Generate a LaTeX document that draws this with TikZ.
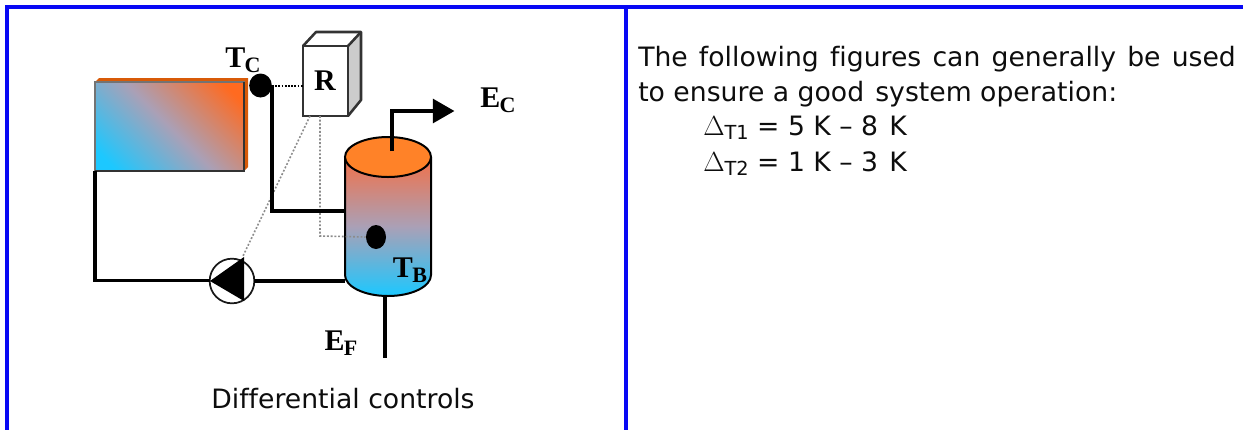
\documentclass[tikz,border=0pt]{standalone}
\usepackage{fontspec}
\setmainfont{DejaVu Sans}[Ligatures=NoCommon]
\newfontfamily\lblfont{Liberation Serif}
\usetikzlibrary{shapes.geometric}
\definecolor{hotc}{HTML}{FF6A20}
\definecolor{coldc}{HTML}{1CC8FF}
\definecolor{midc}{HTML}{AAA0B6}
\definecolor{capc}{HTML}{FF8228}
\definecolor{stripc}{HTML}{D85A08}
\definecolor{framec}{HTML}{0808F4}
\definecolor{tanktop}{HTML}{F27048}
\pgfdeclareverticalshading{panelramp}{100bp}{color(0bp)=(hotc); color(21bp)=(hotc); color(50bp)=(midc); color(79bp)=(coldc); color(100bp)=(coldc)}
\tikzset{
  frameline/.style={draw=framec,line width=2.5pt},
  pipe/.style={draw=black,line width=2.4pt,line cap=butt,line join=miter},
  ctrlthin/.style={draw=black!45,line width=1.2pt,dash pattern=on 1.4pt off 1.4pt},
  ctrlblack/.style={draw=black,line width=2pt,dash pattern=on 1.4pt off 1pt},
  boxedge/.style={draw=black!80,line width=1.9pt,line join=round},
  sensor/.style={fill=black,draw=none,ellipse,inner sep=0pt},
  lbl/.style={font=\lblfont\bfseries\fontsize{22.5}{22}\selectfont,inner sep=0pt,text=black},
  body/.style={inner sep=0pt,anchor=base west,text=black!95,font=\fontsize{20}{24}\selectfont},
}
\newcommand{\lblsub}[2]{#1\kern-0.5pt\raisebox{-3.6pt}{\fontsize{16.5}{16}\selectfont #2}}
\newcommand{\wsp}{\hspace{2pt}}
\begin{document}
\begin{tikzpicture}[x=0.75pt,y=-0.75pt]
\useasboundingbox (0,0) rectangle (1243,430);
\clip (0,0) rectangle (1243,430);
% frame
\path[frameline] (1243,7) -- (7,7) -- (7,430);
\path[frameline] (626,7) -- (626,430);
% panel
\fill[stripc] (95,82) -- (99,78) -- (248,78) -- (248,167) -- (244,171) -- (244,82) -- cycle;
\node[rectangle,draw=black!55,line width=1.4pt,outer sep=0pt,minimum width=111.75pt,minimum height=66.75pt,inner sep=0pt,
  shading=panelramp,shading angle=135] (panel) at (169.5,126.5) {};
\draw[black!80,line width=1.7pt] (panel.south west) -- (panel.south east) -- (panel.north east);
% storage tank
\shade[top color=tanktop,bottom color=coldc,middle color=midc]
  (345,157) -- (345,275) arc[start angle=180,end angle=0,x radius=43,y radius=21] -- (431,157) -- cycle;
\draw[black,line width=1.5pt] (345,157) -- (345,275) arc[start angle=180,end angle=0,x radius=43,y radius=21] -- (431,157);
\draw[black,line width=1.5pt,fill=capc] (388,157) ellipse[x radius=43,y radius=20];
\coordinate (tankpipe) at (345,211);
\coordinate (tankreturn) at (345,281);
\coordinate (tanktopout) at (392,151);
\coordinate (tankfeed) at (385,297);
\coordinate (feedend) at (385,358);
\coordinate (ecbend) at (392,111);
\node[regular polygon,regular polygon sides=3,shape border rotate=-90,fill=black,inner sep=0pt,outer sep=0pt,minimum size=21.5pt] (ectip) at (440,111) {};
% controller
\fill[black!20] (348,46) -- (361,32) -- (361,100) -- (348,116) -- cycle;
\draw[boxedge] (303,46) -- (316,32) -- (361,32) -- (361,100) -- (348,116);
\draw[boxedge] (348,46) -- (361,32);
\node[rectangle,draw=black!80,line width=1.9pt,fill=white,outer sep=0pt,minimum width=33.75pt,minimum height=52.5pt,inner sep=0pt] (ctrl) at (325.5,81) {};
\node[lbl] (rlabel) at (325,81) {R};
% sensors
\node[sensor,minimum width=17pt,minimum height=18pt] (tc) at (260.5,85.5) {};
\node[sensor,minimum width=15pt,minimum height=18pt] (tb) at (376,237) {};
% pump
\node[circle,draw=black!90,line width=1.3pt,fill=white,outer sep=0pt,minimum size=33.5pt,inner sep=0pt] (pump) at (232,281) {};
\fill[black] (210,281) -- (244,257) -- (244,301) -- cycle;
\coordinate (pumptip) at (243,256);
% control signals
\coordinate (ctrla) at (310,116);
\coordinate (ctrlb) at (320,116);
\coordinate (ctrlc) at (320,236);
\draw[ctrlthin] (ctrla) -- (pumptip);
\draw[ctrlthin] (ctrlb) -- (ctrlc) -- (tb.west);
\coordinate (tcright) at (272,86);
\coordinate (ctrlin) at (303,86);
\draw[ctrlblack] (tcright) -- (ctrlin);
% pipes
\coordinate (pipecorner) at (272,211);
\draw[pipe] (tcright) -- (pipecorner) -- (tankpipe);
\coordinate (panelcorner) at (95,280.5);
\draw[pipe] (panel.south west) -- (panelcorner) -- (pump.west |- panelcorner);
\draw[pipe] (pump.east |- tankreturn) -- (tankreturn);
\draw[pipe] (tanktopout) -- (ecbend) -- (ectip.west |- ecbend);
\draw[pipe] (tankfeed) -- (feedend);
% labels
\node[lbl] (lc) at (243,60) {\lblsub{T}{C}};
\node[lbl] (lb) at (410,270) {\lblsub{T}{B}};
\node[lbl] (le) at (498,100) {\lblsub{E}{C}};
\node[lbl] (lf) at (341,343) {\lblsub{E}{F}};
% texts
\node[inner sep=0pt,text=black!95,font=\fontsize{20}{24}\selectfont] (cap) at (343,399) {Differential controls};
\node[body] (t1) at (638,66) {The\wsp{} following\wsp{} figures\wsp{} can\wsp{} generally\wsp{} be\wsp{} used};
\node[body] (t2) at (638,101) {to ensure a good\hspace{2pt} system operation:};
\node[body] (t3) at (703,135.5) {$\Delta$\raisebox{-3pt}{\fontsize{14.5}{14}\selectfont T1} = 5 K – 8\hspace{2pt} K};
\node[body] (t4) at (703,171.5) {$\Delta$\raisebox{-3pt}{\fontsize{14.5}{14}\selectfont T2} = 1 K – 3\hspace{2pt} K};
\end{tikzpicture}
\end{document}
